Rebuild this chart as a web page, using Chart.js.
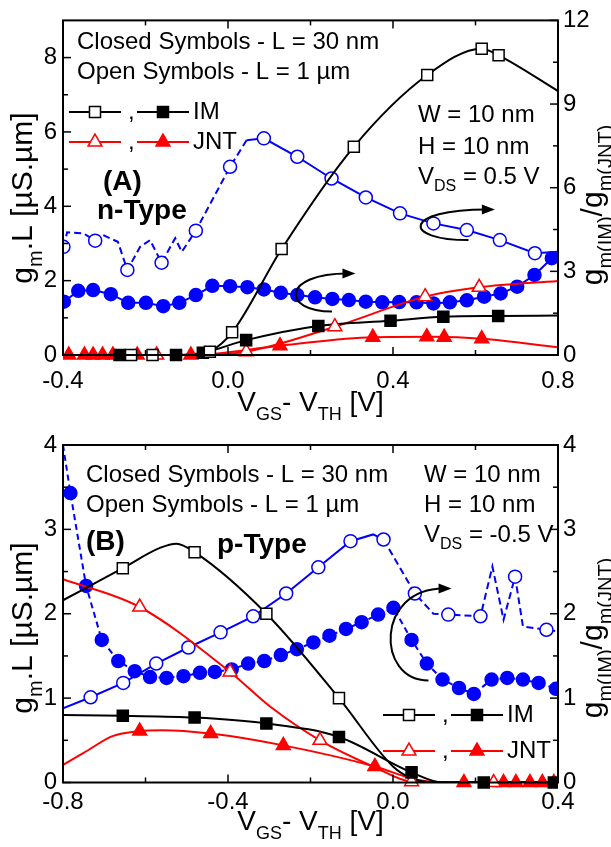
<!DOCTYPE html>
<html>
<head>
<meta charset="utf-8">
<title>gm.L and gm(IM)/gm(JNT) vs VGS - VTH</title>
<script src="https://cdn.jsdelivr.net/npm/chart.js@4.4.1/dist/chart.umd.min.js"></script>
<style>
  body { margin: 0; background: #fff; }
  canvas { position: absolute; left: 0; }
  #chartA { top: 0; }
  #chartB { top: 420px; }
</style>
</head>
<body>
<canvas id="chartA" width="611" height="420"></canvas>
<canvas id="chartB" width="611" height="427"></canvas>
<script>
// ---- (A) n-type : gm.L on the left axis, gm(IM)/gm(JNT) on the right axis ----
const nXTicks = [-0.4, 0.0, 0.4, 0.8];
const nLeftTicks = [0, 2, 4, 6, 8];
const nRightTicks = [0, 3, 6, 9, 12];

const nImOpen = [[-0.235, 0], [-0.183, 0], [-0.044, 0.09], [0.01, 0.61], [0.13, 2.85], [0.305, 5.6], [0.483, 7.53], [0.615, 8.24], [0.656, 8.06]];
const nImOpenLine = [[-0.4, 0], [-0.12, 0], [-0.07, 0.02], [-0.044, 0.09], [0.01, 0.61], [0.13, 2.85], [0.305, 5.6], [0.483, 7.53], [0.615, 8.24], [0.656, 8.06], [0.8, 7.1]];
const nImClosed = [[-0.263, 0], [-0.126, 0], [-0.061, 0.06], [0.044, 0.4], [0.219, 0.78], [0.394, 0.92], [0.522, 1.03], [0.655, 1.05]];
const nImClosedLine = [[-0.4, 0], [-0.126, 0], [-0.061, 0.06], [0.044, 0.4], [0.219, 0.78], [0.394, 0.92], [0.522, 1.03], [0.655, 1.05], [0.8, 1.06]];
const nJntOpen = [[-0.173, 0], [0.044, 0.09], [0.259, 0.76], [0.478, 1.57], [0.609, 1.82]];
const nJntOpenLine = [[-0.4, 0], [-0.1, 0], [0.044, 0.09], [0.259, 0.76], [0.478, 1.57], [0.609, 1.82], [0.8, 1.99]];
const nJntClosed = [[-0.386, 0], [-0.348, 0], [-0.327, 0], [-0.304, 0], [-0.279, 0], [-0.22, 0], [-0.09, 0], [0.126, 0.25], [0.351, 0.48], [0.482, 0.49], [0.524, 0.48], [0.615, 0.44]];
const nJntClosedLine = [[-0.4, 0], [-0.09, 0], [0.126, 0.25], [0.351, 0.48], [0.5, 0.49], [0.615, 0.44], [0.8, 0.21]];
const nRatioClosed = [[-0.398, 1.91], [-0.363, 2.3], [-0.327, 2.33], [-0.284, 2.18], [-0.242, 1.87], [-0.199, 1.87], [-0.157, 1.75], [-0.118, 1.87], [-0.078, 2.15], [-0.038, 2.48], [0.005, 2.47], [0.047, 2.43], [0.087, 2.35], [0.128, 2.23], [0.168, 2.15], [0.211, 2.07], [0.253, 2.01], [0.293, 1.97], [0.334, 1.91], [0.374, 1.89], [0.415, 1.9], [0.457, 1.89], [0.498, 1.85], [0.538, 1.89], [0.579, 1.96], [0.621, 2.09], [0.661, 2.21], [0.701, 2.45], [0.743, 2.87], [0.785, 3.47]];
const nRatioOpen = [[-0.399, 3.88], [-0.322, 4.1], [-0.244, 3.05], [-0.161, 3.31], [-0.078, 4.46], [0.005, 6.75], [0.087, 7.77], [0.168, 7.11], [0.251, 6.33], [0.334, 5.65], [0.417, 5.08], [0.498, 4.72], [0.579, 4.48], [0.659, 4.12], [0.744, 3.65]];
const nRatioOpenLine = [[-0.399, 3.88], [-0.39, 4.4], [-0.35, 4.36], [-0.322, 4.1], [-0.303, 4.3], [-0.267, 4.06], [-0.244, 3.05], [-0.213, 3.88], [-0.189, 4.12], [-0.161, 3.31], [-0.128, 4.19], [-0.112, 3.7], [-0.078, 4.46], [0.005, 6.75], [0.045, 7.7], [0.087, 7.77], [0.168, 7.11], [0.251, 6.33], [0.334, 5.65], [0.417, 5.08], [0.498, 4.72], [0.579, 4.48], [0.659, 4.12], [0.744, 3.65], [0.8, 3.7]];
// curved arrows: start, leftmost point, tip (right-axis units)
const nArrows = [
  { s: [0.252, 1.56], l: [0.167, 2.16], e: [0.309, 2.92] },
  { s: [0.583, 4.12], l: [0.47, 4.66], e: [0.647, 5.22] }
];

// ---- (B) p-type ----
const pXTicks = [-0.8, -0.4, 0.0, 0.4];
const pLeftTicks = [0, 1, 2, 3, 4];
const pRightTicks = [0, 1, 2, 3, 4];

const pImOpen = [[-0.655, 2.54], [-0.481, 2.73], [-0.307, 2.0], [-0.131, 1.0]];
const pImOpenLine = [[-0.8, 2.16], [-0.655, 2.54], [-0.565, 2.78], [-0.525, 2.83], [-0.481, 2.73], [-0.307, 2.0], [-0.131, 1.0], [0.0, 0.19], [0.045, 0.05], [0.1, 0], [0.4, 0]];
const pImClosed = [[-0.655, 0.79], [-0.481, 0.77], [-0.307, 0.7], [-0.131, 0.54], [0.045, 0.12], [0.22, 0], [0.39, 0]];
const pImClosedLine = [[-0.8, 0.8], [-0.655, 0.79], [-0.481, 0.77], [-0.307, 0.7], [-0.131, 0.54], [0.045, 0.12], [0.12, 0], [0.4, 0]];
const pJntOpen = [[-0.614, 2.08], [-0.395, 1.31], [-0.177, 0.5], [0.045, 0.01], [0.244, 0]];
const pJntOpenLine = [[-0.8, 2.41], [-0.614, 2.08], [-0.395, 1.31], [-0.298, 0.9], [-0.177, 0.5], [-0.048, 0.19], [0.045, 0.01], [0.15, 0], [0.4, 0]];
const pJntClosed = [[-0.614, 0.61], [-0.442, 0.58], [-0.266, 0.44], [-0.044, 0.19], [0.172, 0], [0.268, 0], [0.298, 0], [0.332, 0], [0.362, 0], [0.39, 0]];
const pJntClosedLine = [[-0.8, 0.21], [-0.75, 0.35], [-0.68, 0.55], [-0.614, 0.61], [-0.56, 0.62], [-0.442, 0.58], [-0.266, 0.44], [-0.044, 0.19], [0.06, 0.03], [0.15, 0], [0.4, 0]];
const pRatioClosed = [[-0.782, 3.43], [-0.744, 2.33], [-0.706, 1.69], [-0.666, 1.44], [-0.626, 1.32], [-0.589, 1.25], [-0.549, 1.24], [-0.508, 1.26], [-0.468, 1.3], [-0.432, 1.31], [-0.391, 1.34], [-0.351, 1.41], [-0.312, 1.44], [-0.272, 1.51], [-0.233, 1.58], [-0.193, 1.66], [-0.154, 1.74], [-0.114, 1.82], [-0.076, 1.9], [-0.036, 1.99], [0.001, 2.07], [0.045, 1.69], [0.082, 1.41], [0.12, 1.22], [0.16, 1.12], [0.196, 1.05], [0.239, 1.22], [0.277, 1.24], [0.315, 1.22], [0.353, 1.18], [0.395, 1.11]];
const pRatioClosedLine = [[-0.8, 4.0]].concat(pRatioClosed);
const pRatioOpen = [[-0.733, 1.01], [-0.654, 1.18], [-0.574, 1.41], [-0.496, 1.6], [-0.418, 1.78], [-0.339, 1.97], [-0.259, 2.24], [-0.181, 2.55], [-0.103, 2.86], [-0.023, 2.88], [0.053, 2.24], [0.134, 1.99], [0.212, 1.97], [0.296, 2.44], [0.372, 1.81]];
const pRatioOpenLine = [[-0.8, 0.88], [-0.733, 1.01], [-0.654, 1.18], [-0.574, 1.41], [-0.496, 1.6], [-0.418, 1.78], [-0.339, 1.97], [-0.259, 2.24], [-0.181, 2.55], [-0.103, 2.86], [-0.048, 2.94], [-0.023, 2.88], [0.053, 2.24], [0.098, 2.0], [0.134, 1.99], [0.212, 1.97], [0.241, 2.56], [0.268, 1.93], [0.296, 2.44], [0.315, 1.85], [0.372, 1.81], [0.4, 1.79]];
const pArrows = [
  { s: [0.086, 1.21], l: [-0.003, 1.65], e: [0.142, 2.3] }
];

const BLUE = '#0000ff', RED = '#ff0000', BLACK = '#000000';
const FONT = '"Liberation Sans", Arial, Helvetica, sans-serif';
Chart.defaults.font.family = FONT;
Chart.defaults.color = '#000';

function pts(a) { return a.map(p => ({ x: p[0], y: p[1] })); }

function curve(data, color, axis, extra) {
  return Object.assign({
    data: pts(data), yAxisID: axis, borderColor: color, borderWidth: 2,
    pointRadius: 0, fill: false, cubicInterpolationMode: 'monotone'
  }, extra || {});
}

function marks(data, color, axis, style, open, r) {
  return {
    data: pts(data), yAxisID: axis, showLine: false, pointStyle: style, pointRadius: r,
    pointBorderWidth: 1.5, pointBorderColor: color, pointBackgroundColor: open ? '#fff' : color,
    borderColor: color, backgroundColor: open ? '#fff' : color,
    clip: { left: 0, top: 0, right: 0, bottom: 10 }
  };
}

// text with _{sub} parts
function rich(ctx, str, x, y, size, o) {
  o = o || {};
  const weight = o.bold ? 'bold ' : '';
  const bits = str.split(/_\{([^}]*)\}/);
  let w = 0;
  const items = bits.map((t, i) => {
    const sub = i % 2 === 1;
    const sz = sub ? Math.round(size * 0.66) : size;
    ctx.font = weight + sz + 'px ' + FONT;
    const m = ctx.measureText(t).width;
    w += m;
    return { t, sz, sub, m };
  });
  let cx = o.center ? x - w / 2 : x;
  ctx.textBaseline = 'middle';
  ctx.textAlign = 'left';
  items.forEach(it => {
    ctx.font = weight + it.sz + 'px ' + FONT;
    ctx.fillText(it.t, cx, it.sub ? y + size * 0.42 : y);
    cx += it.m;
  });
}

function drawMarker(ctx, style, x, y, r, color, open) {
  ctx.beginPath();
  if (style === 'rect') {
    const s = r * Math.SQRT1_2;
    ctx.rect(x - s, y - s, 2 * s, 2 * s);
  } else if (style === 'triangle') {
    for (let i = 0; i < 3; i++) {
      const a = i * 2 * Math.PI / 3;
      const px = x + Math.sin(a) * r, py = y - Math.cos(a) * r;
      if (i) ctx.lineTo(px, py); else ctx.moveTo(px, py);
    }
    ctx.closePath();
  } else {
    ctx.arc(x, y, r, 0, 2 * Math.PI);
  }
  ctx.fillStyle = open ? '#fff' : color;
  ctx.fill();
  ctx.lineWidth = 1.5;
  ctx.strokeStyle = color;
  ctx.stroke();
}

function legendRow(ctx, x, y, color, style, r, label) {
  ctx.strokeStyle = color;
  ctx.lineWidth = 2;
  ctx.beginPath(); ctx.moveTo(x, y); ctx.lineTo(x + 52, y); ctx.stroke();
  drawMarker(ctx, style, x + 26, y, r, color, true);
  ctx.strokeStyle = color;
  ctx.lineWidth = 2;
  ctx.beginPath(); ctx.moveTo(x + 68, y); ctx.lineTo(x + 120, y); ctx.stroke();
  drawMarker(ctx, style, x + 94, y, r, color, false);
  ctx.fillStyle = '#000';
  rich(ctx, ',', x + 59, y, 24);
  rich(ctx, label, x + 124, y, 24);
}

function drawArrow(ctx, xs, ys, ar) {
  const S = [xs.getPixelForValue(ar.s[0]), ys.getPixelForValue(ar.s[1])];
  const L = [xs.getPixelForValue(ar.l[0]), ys.getPixelForValue(ar.l[1])];
  const E = [xs.getPixelForValue(ar.e[0]), ys.getPixelForValue(ar.e[1])];
  const cx = (L[0] - 0.125 * (S[0] + E[0])) / 0.75;
  ctx.strokeStyle = '#000';
  ctx.lineWidth = 2;
  ctx.beginPath();
  ctx.moveTo(S[0], S[1]);
  ctx.bezierCurveTo(cx, S[1], cx, E[1], E[0] - 8, E[1]);
  ctx.stroke();
  ctx.fillStyle = '#000';
  ctx.beginPath();
  ctx.moveTo(E[0], E[1]);
  ctx.lineTo(E[0] - 13, E[1] - 5);
  ctx.lineTo(E[0] - 13, E[1] + 5);
  ctx.closePath();
  ctx.fill();
}

const panelPlugin = {
  id: 'panel',
  afterDatasetsDraw(chart) {
    const p = chart.options.plugins.panel;
    const ctx = chart.ctx, a = chart.chartArea, sc = chart.scales;
    ctx.save();
    p.arrows.forEach(ar => drawArrow(ctx, sc.x, sc.y2, ar));

    ctx.strokeStyle = '#000';
    ctx.lineWidth = 2;
    ctx.strokeRect(a.left, a.top, a.right - a.left, a.bottom - a.top);
    ctx.lineWidth = 1.5;
    const seg = (x1, y1, x2, y2) => { ctx.beginPath(); ctx.moveTo(x1, y1); ctx.lineTo(x2, y2); ctx.stroke(); };
    const ticksWithMinor = (ticks, fn) => ticks.forEach((v, i) => {
      fn(v, 8);
      if (i < ticks.length - 1) fn((v + ticks[i + 1]) / 2, 5);
    });
    ticksWithMinor(p.xTicks, (v, len) => {
      const x = sc.x.getPixelForValue(v);
      seg(x, a.bottom, x, a.bottom - len);
      seg(x, a.top, x, a.top + len);
    });
    ticksWithMinor(p.yTicks, (v, len) => {
      const y = sc.y.getPixelForValue(v);
      seg(a.left, y, a.left + len, y);
    });
    ticksWithMinor(p.y2Ticks, (v, len) => {
      const y = sc.y2.getPixelForValue(v);
      seg(a.right, y, a.right - len, y);
    });

    ctx.fillStyle = '#000';
    p.texts.forEach(t => rich(ctx, t.s, t.x, t.y, t.size || 24, t));

    legendRow(ctx, p.legend.x, p.legend.y, BLACK, 'rect', 7.8, 'IM');
    legendRow(ctx, p.legend.x, p.legend.y + p.legend.gap, RED, 'triangle', 8, 'JNT');

    // axis titles
    ctx.fillStyle = '#000';
    rich(ctx, 'V_{GS}- V_{TH} [V]', (a.left + a.right) / 2, p.xTitleY, 28, { center: true });
    ctx.save();
    ctx.translate(24, p.leftTitleY);
    ctx.rotate(-Math.PI / 2);
    rich(ctx, 'g_{m}.L [µS.µm]', 0, 0, 30, { center: true });
    ctx.restore();
    ctx.save();
    ctx.translate(594, p.rightTitleY);
    ctx.rotate(-Math.PI / 2);
    rich(ctx, 'g_{m(IM)}/g_{m(JNT)}', 0, 0, 30, { center: true });
    ctx.restore();
    ctx.restore();
  }
};

function fmtX(v) { return Math.abs(v) < 1e-9 ? '0.0' : v.toFixed(1); }

function makePanel(id, cfg) {
  return new Chart(document.getElementById(id), {
    type: 'line',
    data: { datasets: cfg.datasets },
    plugins: [panelPlugin],
    options: {
      responsive: false,
      animation: false,
      events: [],
      layout: { padding: { top: cfg.top, left: 0, right: 0, bottom: 0 } },
      scales: {
        x: {
          type: 'linear', min: cfg.xTicks[0], max: cfg.xTicks[cfg.xTicks.length - 1],
          afterBuildTicks: s => { s.ticks = cfg.xTicks.map(v => ({ value: v })); },
          afterFit: s => { s.height = cfg.xHeight; },
          grid: { display: false, drawTicks: false }, border: { display: false },
          ticks: { callback: fmtX, padding: cfg.xPad, font: { size: 24 }, color: '#000', maxRotation: 0, autoSkip: false }
        },
        y: {
          type: 'linear', position: 'left', min: 0, max: cfg.yMax,
          afterBuildTicks: s => { s.ticks = cfg.yTicks.map(v => ({ value: v })); },
          afterFit: s => { s.width = 63; },
          grid: { display: false, drawTicks: false }, border: { display: false },
          ticks: { padding: 6, font: { size: 24 }, color: '#000' }
        },
        y2: {
          type: 'linear', position: 'right', min: 0, max: cfg.y2Max,
          afterBuildTicks: s => { s.ticks = cfg.y2Ticks.map(v => ({ value: v })); },
          afterFit: s => { s.width = 53; },
          grid: { display: false, drawTicks: false }, border: { display: false },
          ticks: { padding: 5, font: { size: 24 }, color: '#000' }
        }
      },
      plugins: {
        legend: { display: false },
        tooltip: { enabled: false },
        panel: {
          xTicks: cfg.xTicks, yTicks: cfg.yTicks, y2Ticks: cfg.y2Ticks,
          arrows: cfg.arrows, texts: cfg.texts, legend: cfg.legend,
          xTitleY: cfg.xTitleY, leftTitleY: cfg.leftTitleY, rightTitleY: cfg.rightTitleY
        }
      }
    }
  });
}

// panel A
makePanel('chartA', {
  top: 20, xHeight: 65, xPad: 12, yMax: 9, y2Max: 12,
  xTicks: nXTicks, yTicks: nLeftTicks, y2Ticks: nRightTicks,
  arrows: nArrows,
  xTitleY: 403, leftTitleY: 198, rightTitleY: 205,
  legend: { x: 69, y: 112, gap: 30 },
  texts: [
    { s: 'Closed Symbols - L = 30 nm', x: 77, y: 42 },
    { s: 'Open Symbols - L = 1 µm', x: 77, y: 72 },
    { s: '(A)', x: 103, y: 182, size: 28, bold: true },
    { s: 'n-Type', x: 97, y: 211, size: 28, bold: true },
    { s: 'W = 10 nm', x: 418, y: 115 },
    { s: 'H = 10 nm', x: 418, y: 147 },
    { s: 'V_{DS} = 0.5 V', x: 418, y: 177 }
  ],
  datasets: [
    marks(nImOpen, BLACK, 'y', 'rect', true, 7.8),
    marks(nImClosed, BLACK, 'y', 'rect', false, 7.8),
    marks(nJntOpen, RED, 'y', 'triangle', true, 8),
    marks(nJntClosed, RED, 'y', 'triangle', false, 8),
    curve(nImOpenLine, BLACK, 'y'),
    curve(nImClosedLine, BLACK, 'y'),
    curve(nJntOpenLine, RED, 'y'),
    curve(nJntClosedLine, RED, 'y'),
    marks(nRatioOpen, BLUE, 'y2', 'circle', true, 6.5),
    marks(nRatioClosed, BLUE, 'y2', 'circle', false, 6.5),
    curve(nRatioOpenLine, BLUE, 'y2', {
      cubicInterpolationMode: 'default', tension: 0,
      segment: { borderDash: c => c.p1.parsed.x <= 0.046 ? [7, 4] : undefined }
    }),
    curve(nRatioClosed, BLUE, 'y2', { cubicInterpolationMode: 'default', tension: 0 })
  ]
});

// panel B
makePanel('chartB', {
  top: 25, xHeight: 64.5, xPad: 5, yMax: 4, y2Max: 4,
  xTicks: pXTicks, yTicks: pLeftTicks, y2Ticks: pRightTicks,
  arrows: pArrows,
  xTitleY: 402, leftTitleY: 208, rightTitleY: 218,
  legend: { x: 383, y: 295, gap: 36 },
  texts: [
    { s: 'Closed Symbols - L = 30 nm', x: 86, y: 55 },
    { s: 'Open Symbols - L = 1 µm', x: 86, y: 85 },
    { s: '(B)', x: 86, y: 122, size: 28, bold: true },
    { s: 'p-Type', x: 217, y: 125, size: 28, bold: true },
    { s: 'W = 10 nm', x: 424, y: 55 },
    { s: 'H = 10 nm', x: 424, y: 85 },
    { s: 'V_{DS} = -0.5 V', x: 424, y: 115 }
  ],
  datasets: [
    marks(pImOpen, BLACK, 'y', 'rect', true, 7.8),
    marks(pImClosed, BLACK, 'y', 'rect', false, 7.8),
    marks(pJntOpen, RED, 'y', 'triangle', true, 8),
    marks(pJntClosed, RED, 'y', 'triangle', false, 8),
    curve(pImOpenLine, BLACK, 'y'),
    curve(pImClosedLine, BLACK, 'y'),
    curve(pJntOpenLine, RED, 'y'),
    curve(pJntClosedLine, RED, 'y'),
    marks(pRatioOpen, BLUE, 'y2', 'circle', true, 6.5),
    marks(pRatioClosed, BLUE, 'y2', 'circle', false, 6.5),
    curve(pRatioOpenLine, BLUE, 'y2', {
      cubicInterpolationMode: 'default', tension: 0,
      segment: { borderDash: c => c.p0.parsed.x >= -0.03 ? [7, 4] : undefined }
    }),
    curve(pRatioClosedLine, BLUE, 'y2', { cubicInterpolationMode: 'default', tension: 0, borderDash: [6, 4] })
  ]
});
</script>
</body>
</html>
